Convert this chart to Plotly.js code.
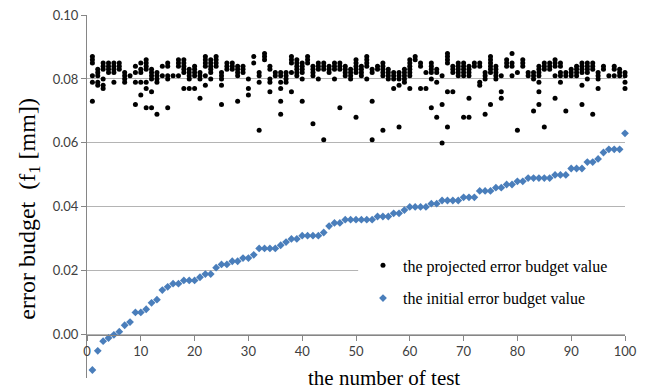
<!DOCTYPE html>
<html>
<head>
<meta charset="utf-8">
<script src="https://cdn.plot.ly/plotly-3.0.1.min.js"></script>
<style>
  html, body { margin: 0; padding: 0; background: #fff; }
  #chart { width: 646px; height: 390px; }
</style>
</head>
<body>
<div id="chart"></div>
<script>
// Projected error budget values for each test (several runs per test number, mm)
const projected = [
  [0.087,0.086,0.085,0.081,0.079,0.073],
  [0.083,0.082,0.081,0.079,0.078],
  [0.085,0.084,0.083,0.080,0.078,0.077],
  [0.085,0.084,0.083,0.082],
  [0.085,0.084,0.083,0.082,0.079],
  [0.085,0.084,0.083],
  [0.082,0.081,0.080,0.079],
  [0.081],
  [0.084,0.082,0.079,0.072],
  [0.085,0.083,0.082,0.079,0.075],
  [0.086,0.085,0.084,0.083,0.079,0.077,0.071],
  [0.083,0.082,0.081,0.080,0.076,0.071],
  [0.082,0.081,0.080,0.079,0.069],
  [0.084,0.081],
  [0.085,0.084,0.081,0.080,0.071],
  [0.081],
  [0.086,0.085,0.084,0.081],
  [0.086,0.085,0.084,0.083,0.082,0.077],
  [0.083,0.082,0.081,0.080,0.077],
  [0.084,0.083,0.082,0.081,0.077],
  [0.082,0.081,0.080,0.074],
  [0.087,0.086,0.085,0.084,0.081,0.078],
  [0.086,0.085,0.084,0.083,0.082,0.080],
  [0.087,0.086,0.085,0.084],
  [0.082,0.081,0.080,0.078,0.072],
  [0.085,0.084,0.083],
  [0.085,0.084,0.083],
  [0.084,0.083,0.082,0.081,0.073],
  [0.084,0.083,0.082],
  [0.080,0.077,0.075],
  [0.087,0.085],
  [0.082,0.081,0.079,0.064],
  [0.088,0.087,0.086],
  [0.084,0.083,0.080,0.079,0.076],
  [0.082,0.081],
  [0.082,0.081,0.079,0.077,0.073,0.069],
  [0.082,0.081,0.080,0.079],
  [0.087,0.086,0.085,0.082,0.076],
  [0.086,0.085,0.084,0.083,0.082,0.081],
  [0.085,0.084,0.083,0.082,0.080,0.073],
  [0.087,0.086,0.085],
  [0.084,0.083,0.082,0.081,0.066],
  [0.085,0.084,0.083,0.080],
  [0.085,0.084,0.083,0.061],
  [0.084,0.083,0.082],
  [0.085,0.084,0.083,0.080],
  [0.085,0.084,0.083,0.071],
  [0.084,0.083,0.082,0.081],
  [0.083,0.082,0.081,0.080],
  [0.086,0.085,0.084,0.083,0.082,0.068],
  [0.084,0.083,0.082,0.081],
  [0.087,0.086,0.085,0.084,0.080],
  [0.083,0.082,0.073,0.061],
  [0.084,0.083],
  [0.085,0.084,0.083,0.082,0.081,0.064],
  [0.083,0.082,0.081,0.080],
  [0.082,0.081,0.080,0.077],
  [0.082,0.081,0.080,0.078,0.065],
  [0.083,0.082,0.081,0.080,0.079],
  [0.086,0.085,0.084,0.083,0.082,0.081,0.077],
  [0.087,0.086],
  [0.085,0.084,0.077],
  [0.082,0.077],
  [0.085,0.084,0.083,0.082,0.080,0.071],
  [0.083,0.082,0.079,0.068],
  [0.081,0.072,0.060],
  [0.088,0.087,0.086,0.085,0.076,0.065],
  [0.084,0.083,0.082,0.076],
  [0.085,0.084,0.083,0.082,0.081],
  [0.085,0.084,0.083,0.082,0.081,0.068],
  [0.084,0.083,0.082,0.081,0.074,0.068],
  [0.085,0.084],
  [0.085,0.084,0.079,0.078],
  [0.082,0.081,0.080,0.069],
  [0.087,0.086,0.085,0.084,0.083,0.082,0.072],
  [0.084,0.083,0.082,0.081,0.080],
  [0.081,0.076,0.074],
  [0.086,0.085,0.084],
  [0.088,0.085,0.084,0.081],
  [0.082,0.064],
  [0.086,0.085,0.084],
  [0.082,0.081],
  [0.082,0.081,0.080,0.070],
  [0.084,0.083,0.082,0.081,0.079,0.076,0.072],
  [0.085,0.084,0.083,0.065],
  [0.085,0.084,0.083],
  [0.086,0.085,0.084,0.081,0.074],
  [0.085,0.084,0.082,0.081,0.079],
  [0.082,0.081,0.070],
  [0.083,0.082,0.081],
  [0.084,0.083,0.082,0.081],
  [0.085,0.084,0.083,0.082,0.078,0.072],
  [0.085,0.084,0.083,0.082,0.080],
  [0.085,0.084,0.083,0.069],
  [0.082,0.081,0.080,0.077],
  [0.084,0.083],
  [0.081],
  [0.084,0.083,0.081],
  [0.083,0.082,0.081],
  [0.082,0.081,0.079,0.077]
];

// Initial error budget value for tests 1..100 (mm)
const initial = [
  -0.011,-0.005,-0.002,-0.001,0.000,0.001,0.003,0.004,0.007,0.007,
  0.008,0.010,0.011,0.014,0.015,0.016,0.016,0.017,0.017,0.017,
  0.018,0.019,0.019,0.021,0.022,0.022,0.023,0.023,0.024,0.024,
  0.025,0.027,0.027,0.027,0.027,0.028,0.029,0.030,0.030,0.031,
  0.031,0.031,0.031,0.032,0.034,0.035,0.035,0.036,0.036,0.036,
  0.036,0.036,0.036,0.037,0.037,0.037,0.038,0.038,0.039,0.040,
  0.040,0.040,0.040,0.041,0.041,0.042,0.042,0.042,0.042,0.043,
  0.043,0.043,0.045,0.045,0.045,0.046,0.046,0.047,0.047,0.048,
  0.048,0.049,0.049,0.049,0.049,0.049,0.050,0.050,0.050,0.052,
  0.052,0.052,0.054,0.054,0.055,0.057,0.058,0.058,0.058,0.063
];

const xTicks = [0,10,20,30,40,50,60,70,80,90,100];
const yTicks = [0.00,0.02,0.04,0.06,0.08,0.10];

// Flatten the per-test runs into x/y pairs
const projX = [], projY = [];
projected.forEach((runs, i) => runs.forEach(v => { projX.push(i + 1); projY.push(v); }));
const testNo = initial.map((_, i) => i + 1);

const yRange = [-0.0135, 0.10];
const zeroPos = (0 - yRange[0]) / (yRange[1] - yRange[0]);

const serif = '"Liberation Serif", "Times New Roman", serif';
const sans = 'Lato, "Open Sans", sans-serif';

const traces = [
  {
    type: 'scatter', mode: 'markers',
    x: projX, y: projY,
    name: 'the projected error budget value',
    legendgroup: 'proj',
    marker: { color: '#000000', size: 5 },
    cliponaxis: false, hoverinfo: 'x+y'
  },
  {
    type: 'scatter', mode: 'markers',
    x: testNo, y: initial,
    name: 'the initial error budget value',
    legendgroup: 'init',
    marker: { color: '#4a7ebb', size: 6, symbol: 'diamond' },
    cliponaxis: false, hoverinfo: 'x+y'
  }
];

const layout = {
  width: 646, height: 390,
  margin: { l: 87, r: 21, t: 15, b: 12 },
  paper_bgcolor: '#ffffff', plot_bgcolor: '#ffffff',
  font: { family: sans, size: 13, color: '#404040' },
  showlegend: true,
  xaxis: {
    range: [0, 100],
    tickvals: xTicks,
    ticks: 'outside', ticklen: 5, tickcolor: '#868686',
    showline: true, linecolor: '#868686', linewidth: 1,
    showgrid: false, zeroline: false,
    anchor: 'free', position: zeroPos,
    automargin: false,
    tickfont: { family: sans, size: 13, color: '#404040' }
  },
  yaxis: {
    range: yRange,
    tickvals: yTicks,
    tickformat: '.2f',
    ticks: 'outside', ticklen: 5, tickcolor: '#868686',
    showline: true, linecolor: '#868686', linewidth: 1,
    showgrid: true, gridcolor: '#b4b4b4', gridwidth: 1,
    zeroline: false,
    automargin: false,
    tickfont: { family: sans, size: 13, color: '#404040' }
  },
  legend: {
    x: 0.513, y: 0.357, xanchor: 'left', yanchor: 'top',
    bgcolor: 'rgba(255,255,255,0)',
    font: { family: serif, size: 16, color: '#000' },
    tracegroupgap: 9, itemwidth: 30
  },
  // axis titles
  annotations: [
    {
      text: 'the number of test', showarrow: false,
      xref: 'paper', yref: 'paper', x: 0.552, y: 0.0,
      xanchor: 'center', yanchor: 'middle',
      font: { family: serif, size: 21, color: '#000' }
    },
    {
      text: 'error budget  (f<sub>1</sub> [mm])', showarrow: false, textangle: -90,
      xref: 'paper', yref: 'paper', x: -0.108, y: 0.466,
      xanchor: 'center', yanchor: 'middle',
      font: { family: serif, size: 24, color: '#000' }
    }
  ],
  // white backing behind the legend block so the 0.02 gridline stops at its edge
  shapes: [{
    type: 'rect', xref: 'paper', yref: 'y',
    x0: 0.504, x1: 1.0, y0: 0.017, y1: 0.023,
    fillcolor: '#ffffff', line: { width: 0 }, layer: 'above'
  }]
};

Plotly.newPlot('chart', traces, layout, { displayModeBar: false, staticPlot: true });
</script>
</body>
</html>
